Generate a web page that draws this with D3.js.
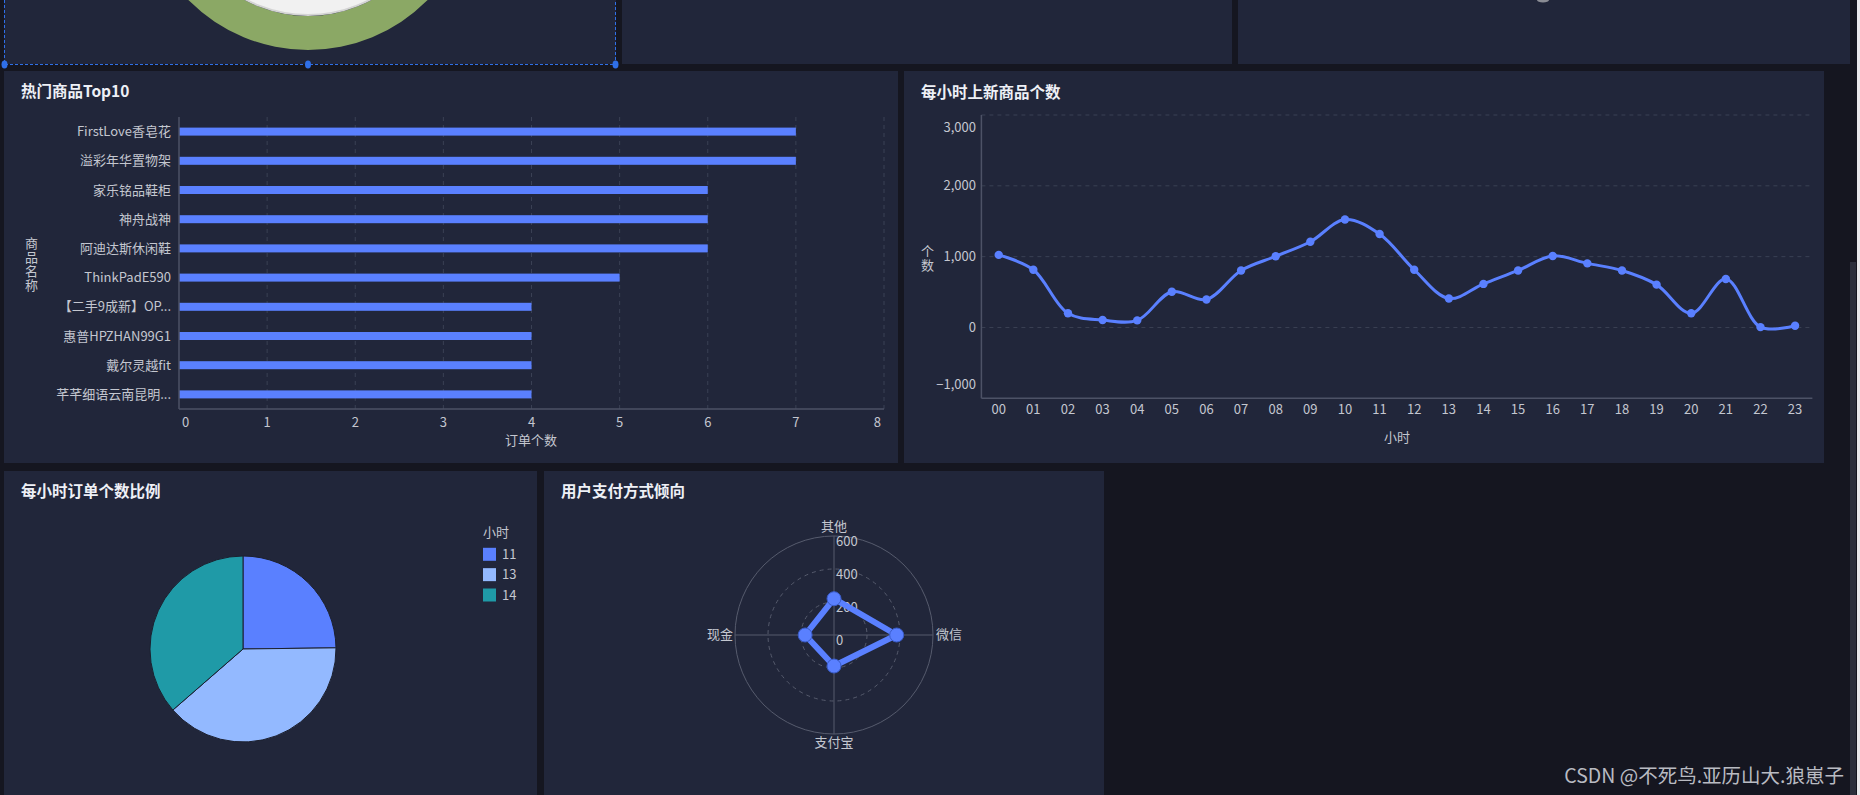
<!DOCTYPE html>
<html><head><meta charset="utf-8">
<script src="https://cdn.jsdelivr.net/npm/d3@7"></script>
<style>
html,body{margin:0;padding:0;background:#151620;overflow:hidden;}
svg{display:block;font-family:"Noto Sans CJK SC","Noto Sans",sans-serif;}
</style></head>
<body><svg id="c" width="1860" height="795"></svg>
<script>
// ---------- data ----------
const barCategories = ["FirstLove香皂花","溢彩年华置物架","家乐铭品鞋柜","神舟战神","阿迪达斯休闲鞋","ThinkPadE590","【二手9成新】OP...","惠普HPZHAN99G1","戴尔灵越fit","芊芊细语云南昆明..."];
const barValues = [7,7,6,6,6,5,4,4,4,4];
const barTicks = [0,1,2,3,4,5,6,7,8];

const hours = ["00","01","02","03","04","05","06","07","08","09","10","11","12","13","14","15","16","17","18","19","20","21","22","23"];
const hourValues = [1025,815,200,105,100,505,395,805,1005,1210,1525,1320,815,410,615,805,1010,905,805,605,200,685,5,25];
const lineTicks = [-1000,0,1000,2000,3000];

const pieLabels = ["11","13","14"];
const pieValues = [24.8,38.8,36.4];
const pieColors = ["#5a80ff","#93b9ff","#1f9aa7"];

const radarAxes = ["其他","微信","支付宝","现金"];
const radarValues = [220,380,188,175];
const radarTicks = [0,200,400,600];

// ---------- styles ----------
const PANEL="#21263a", TXT="#c4c7d0", TITLE="#eef0f6", GRID="#3a4054", AXIS="#4d5266", BLUE="#5a80ff";
const svg = d3.select("#c");
svg.append("rect").attr("width",1860).attr("height",795).attr("fill","#151620");

const panels = [[4,0,612,64],[622,0,610,64],[1238,0,612,64],[4,71,894,392],[904,71,920,392],[4,471,533,324],[544,471,560,324]];
svg.selectAll("rect.p").data(panels).join("rect").attr("class","p")
  .attr("x",d=>d[0]).attr("y",d=>d[1]).attr("width",d=>d[2]).attr("height",d=>d[3]).attr("fill",PANEL);

// scrollbar
svg.append("rect").attr("x",1850).attr("y",262).attr("width",6).attr("height",533).attr("fill","#2c2f3c");
svg.append("rect").attr("x",1857).attr("y",0).attr("width",3).attr("height",795).attr("fill","#e9e9ec");

// top-left liquid ring (clipped)
svg.append("clipPath").attr("id","cp1").append("rect").attr("x",4).attr("y",0).attr("width",612).attr("height",64);
const g0 = svg.append("g").attr("clip-path","url(#cp1)");
g0.append("path").attr("transform","translate(308,-118)")
  .attr("d", d3.arc()({innerRadius:134,outerRadius:168,startAngle:0,endAngle:2*Math.PI})).attr("fill","#8ba865");
g0.append("circle").attr("cx",308).attr("cy",-118).attr("r",133).attr("fill","#f1f1f1").attr("stroke","#d4d4d4").attr("stroke-width",2);
// small grey mark top-right panel
svg.append("ellipse").attr("cx",1543).attr("cy",0).attr("rx",6).attr("ry",2.5).attr("fill","#8a8c94");
// selection frame
const SEL="#2f6fe8";
svg.append("path").attr("d","M4.5,0V64.5H615.5V0").attr("fill","none").attr("stroke",SEL).attr("stroke-width",1).attr("stroke-dasharray","3,2");
[[4.5,64.5],[308,64.5],[615.5,64.5]].forEach(p=>svg.append("ellipse").attr("cx",p[0]).attr("cy",p[1]).attr("rx",3).attr("ry",4).attr("fill",SEL));

function title(x,y,t){svg.append("text").attr("x",x).attr("y",y).attr("dy","0.35em").attr("fill",TITLE)
  .attr("font-size",15.5).attr("font-weight","bold").text(t);}
function txt(g,x,y,t,anchor,size){return g.append("text").attr("x",x).attr("y",y).attr("dy","0.35em").attr("fill",TXT)
  .attr("font-size",size||13).attr("text-anchor",anchor||"middle").text(t);}
function vtitle(g,x,yc,t){g.append("text").attr("x",x).attr("y",yc).attr("fill",TXT).attr("font-size",13)
  .attr("text-anchor","middle").attr("writing-mode","vertical-rl").attr("letter-spacing",1).text(t);}

// ---------- bar chart ----------
title(21,92,"热门商品Top10");
const gb = svg.append("g");
const xB = d3.scaleLinear().domain([0,8]).range([179,884]);
const yB = d3.scaleBand().domain(barCategories).range([117,409]);
gb.selectAll("line.g").data(barTicks.slice(1)).join("line").attr("x1",d=>xB(d)).attr("x2",d=>xB(d)).attr("y1",117).attr("y2",409)
  .attr("stroke",GRID).attr("stroke-dasharray","4,4");
gb.selectAll("rect.b").data(barValues).join("rect").attr("x",xB(0)).attr("y",(d,i)=>yB(barCategories[i])+yB.bandwidth()/2-4)
  .attr("width",d=>xB(d)-xB(0)).attr("height",8).attr("fill",BLUE);
gb.append("line").attr("x1",179).attr("x2",179).attr("y1",117).attr("y2",409).attr("stroke",AXIS).attr("stroke-width",1.5);
gb.append("line").attr("x1",179).attr("x2",884).attr("y1",409).attr("y2",409).attr("stroke",AXIS).attr("stroke-width",1.5);
barTicks.forEach((v,i)=>{const a=i===0?"start":(i===barTicks.length-1?"end":"middle");
  txt(gb,xB(v)+(i===0?3:(i===barTicks.length-1?-3:0)),422,String(v),a);});
barCategories.forEach(c=>txt(gb,171,yB(c)+yB.bandwidth()/2,c,"end"));
txt(gb,531,440,"订单个数");
vtitle(gb,31.5,265,"商品名称");

// ---------- line chart ----------
title(921,93,"每小时上新商品个数");
const gl = svg.append("g");
const xL = d3.scaleBand().domain(hours).range([981.4,1812.4]);
const yL = d3.scaleLinear().domain([-1000,3000]).range([398.3,115]);
gl.selectAll("line.g").data(lineTicks.slice(1)).join("line").attr("x1",981.4).attr("x2",1812.4).attr("y1",d=>yL(d)).attr("y2",d=>yL(d))
  .attr("stroke",GRID).attr("stroke-dasharray","4,4");
gl.append("line").attr("x1",981.4).attr("x2",981.4).attr("y1",115).attr("y2",398.3).attr("stroke",AXIS).attr("stroke-width",1.5);
gl.append("line").attr("x1",981.4).attr("x2",1812.4).attr("y1",398.3).attr("y2",398.3).attr("stroke",AXIS).attr("stroke-width",1.5);
const fmt = d3.format(",");
lineTicks.forEach((v,i)=>{let y=yL(v); if(i===0) y-=14; if(i===lineTicks.length-1) y+=12; txt(gl,976,y,fmt(v),"end");});
hours.forEach(h=>txt(gl,xL(h)+xL.bandwidth()/2,409.5,h));
txt(gl,1397,437,"小时");
vtitle(gl,927.6,259,"个数");
const px = h=>xL(h)+xL.bandwidth()/2;
gl.append("path").attr("d",d3.line().x((d,i)=>px(hours[i])).y(d=>yL(d)).curve(d3.curveCatmullRom.alpha(0.5))(hourValues))
  .attr("fill","none").attr("stroke",BLUE).attr("stroke-width",3);
gl.selectAll("circle").data(hourValues).join("circle").attr("cx",(d,i)=>px(hours[i])).attr("cy",d=>yL(d)).attr("r",4.2).attr("fill",BLUE);

// ---------- pie ----------
title(21,492,"每小时订单个数比例");
const gp = svg.append("g").attr("transform","translate(243,649)");
const arcs = d3.pie().sort(null).value(d=>d)(pieValues);
gp.selectAll("path").data(arcs).join("path").attr("d",d3.arc().innerRadius(0).outerRadius(93))
  .attr("fill",(d,i)=>pieColors[i]).attr("stroke","#1b1f2e").attr("stroke-width",1);
const lg = svg.append("g");
txt(lg,483,532,"小时","start");
pieLabels.forEach((l,i)=>{const y=554.3+i*20.35;
  lg.append("rect").attr("x",483).attr("y",y-6.5).attr("width",13).attr("height",13).attr("fill",pieColors[i]);
  txt(lg,502,y,l,"start");});

// ---------- radar ----------
title(561,492,"用户支付方式倾向");
const cx=834, cy=635;
const gr = svg.append("g").attr("transform",`translate(${cx},${cy})`);
const rR = d3.scaleLinear().domain([0,600]).range([0,99]);
radarTicks.slice(1).forEach((v,i)=>gr.append("circle").attr("r",rR(v)).attr("fill","none").attr("stroke","#565b6d")
  .attr("stroke-width",1).attr("stroke-dasharray",v===600?null:"4,4"));
const ang = radarAxes.map((a,i)=>i*2*Math.PI/radarAxes.length);
ang.forEach(a=>gr.append("line").attr("x1",0).attr("y1",0).attr("x2",Math.sin(a)*rR(600)).attr("y2",-Math.cos(a)*rR(600))
  .attr("stroke","#565b6d"));
radarTicks.forEach(v=>txt(gr,2,-rR(v)+5.5,String(v),"start"));
const lblPos=[[0,-109,"middle"],[102,-0.5,"start"],[0,107.5,"middle"],[-101,-0.5,"end"]];
radarAxes.forEach((a,i)=>txt(gr,lblPos[i][0],lblPos[i][1],a,lblPos[i][2]));
const pts = radarValues.map((v,i)=>[Math.sin(ang[i])*rR(v),-Math.cos(ang[i])*rR(v)]);
gr.append("path").attr("d",d3.line().curve(d3.curveLinearClosed)(pts)).attr("fill","none").attr("stroke",BLUE).attr("stroke-width",6).attr("stroke-linejoin","round");
gr.selectAll("circle.pt").data(pts).join("circle").attr("class","pt").attr("cx",d=>d[0]).attr("cy",d=>d[1]).attr("r",7)
  .attr("fill",BLUE).attr("stroke","#3a5cc8").attr("stroke-width",1);

// watermark
svg.append("text").attr("x",1844).attr("y",776).attr("dy","0.35em").attr("text-anchor","end").attr("font-size",19.5)
  .attr("fill","#b9bbc2").text("CSDN @不死鸟.亚历山大.狼崽子");
</script></body></html>
